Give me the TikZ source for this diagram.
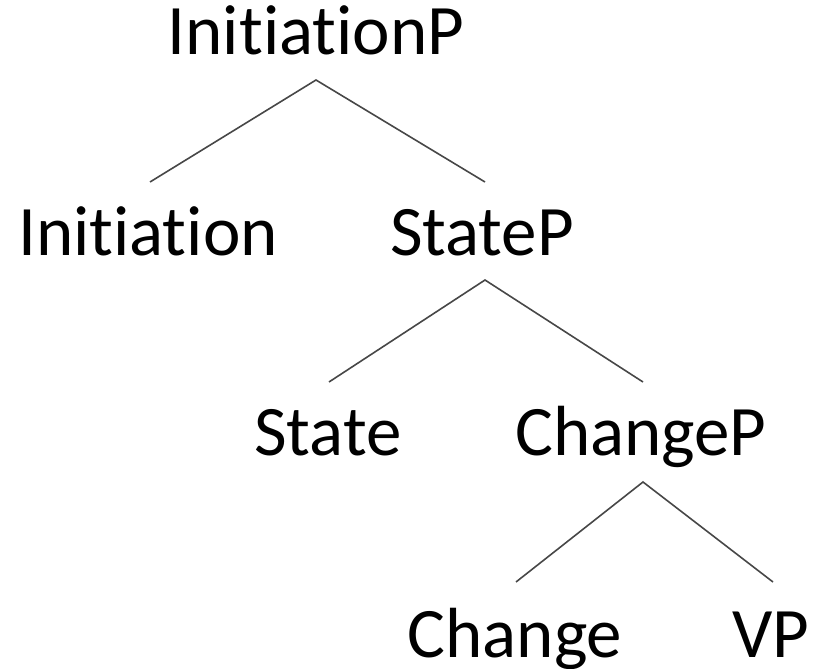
\documentclass[tikz,border=0pt]{standalone}
\usepackage{fontspec}
\setmainfont{Carlito}
% keep "t" and "i" as separate glyphs
\newcommand{\tI}{t\kern0pt i}
\begin{document}
\begin{tikzpicture}[x=1pt,y=-1pt,
  cat/.style={anchor=base,inner sep=0pt,font=\fontsize{71}{85}\selectfont},
  branch/.style={draw=black!72,line width=1.6pt}]
\useasboundingbox (0,0) rectangle (815,669);
% category labels
\node[cat] (ip)  at (316,55)  {Ini\tI a\tI onP};
\node[cat] (ini) at (148,255) {Ini\tI a\tI on};
\node[cat] (sp)  at (482,255) {StateP};
\node[cat] (st)  at (328,455) {State};
\node[cat] (cp)  at (641,455) {ChangeP};
\node[cat] (ch)  at (515,657) {Change};
\node[cat] (vp)  at (771,657) {VP};
% branch points
\coordinate (ip-a)  at (316,80);
\coordinate (ini-t) at (150,182);
\coordinate (sp-t)  at (485,182);
\coordinate (sp-a)  at (485,280);
\coordinate (st-t)  at (329,382);
\coordinate (cp-t)  at (643,382);
\coordinate (cp-a)  at (643,482);
\coordinate (ch-t)  at (516,582);
\coordinate (vp-t)  at (773,582);
% branches
\draw[branch] (ini-t) -- (ip-a) -- (sp-t);
\draw[branch] (st-t) -- (sp-a) -- (cp-t);
\draw[branch] (ch-t) -- (cp-a) -- (vp-t);
\end{tikzpicture}
\end{document}
